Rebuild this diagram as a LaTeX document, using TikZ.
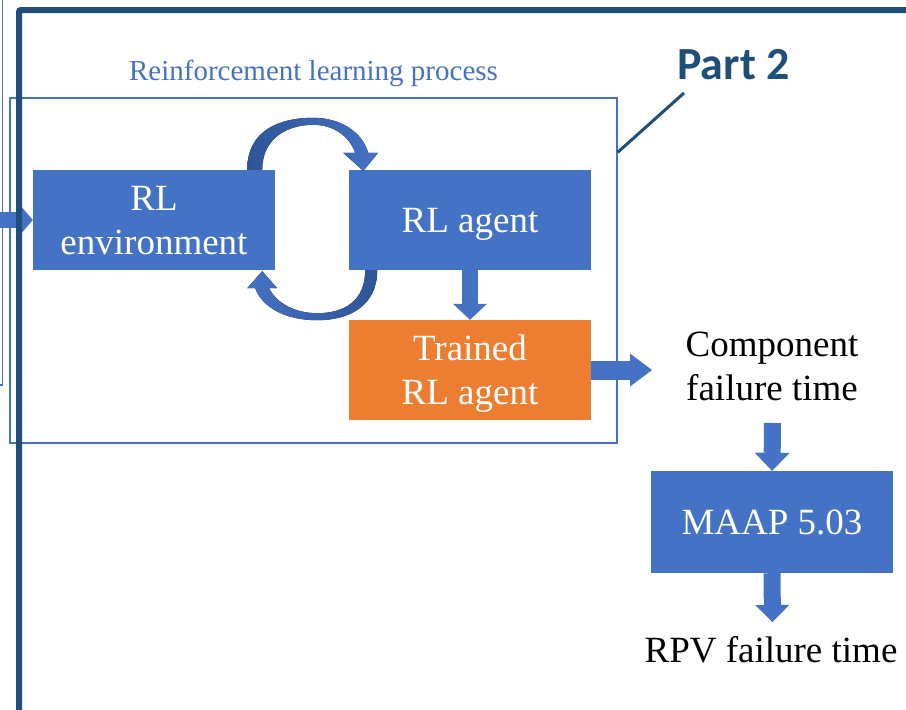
\documentclass[tikz,border=0pt]{standalone}
\usepackage{fontspec}
\setmainfont{Liberation Serif}
\newfontfamily\calfont{Carlito}
\usetikzlibrary{arrows.meta,calc}
\definecolor{boxblue}{HTML}{4472C4}
\definecolor{deepblue}{HTML}{2F5597}
\definecolor{boxorange}{HTML}{ED7D31}
\definecolor{navy}{HTML}{1F4E79}
\begin{document}
\begin{tikzpicture}[x=1pt,y=-1pt,
  bigtext/.style={font=\fontsize{37}{44}\selectfont},
  stage/.style={bigtext, fill=#1, text=white, minimum width=242pt,
    minimum height=100pt, inner sep=0pt, align=center, text depth=0pt},
  fatarrow/.style n args={3}{draw=boxblue, line width=#1,
    -{Triangle[width=#2, length=#3, line width=0pt]}},
  thinframe/.style={draw=boxblue, line width=1.5pt}]
\useasboundingbox (0,0) rectangle (906,710);

% process stages
\node[stage=boxblue]   (env)     at (154,220) {RL\\environment};
\node[stage=boxblue]   (agent)   at (470,220) {RL agent};
\node[stage=boxorange] (trained) at (470,370) {Trained\\RL agent};
\node[stage=boxblue, minimum height=102pt] (maap) at (772,522) {MAAP 5.03};

% outputs
\node[bigtext, align=center, inner sep=0pt] (comp) at (772,366) {Component\\failure time};
\node[bigtext, anchor=base, inner sep=0pt] (rpv) at (771,662) {RPV failure time};

% helper points for the free arrow ends
\coordinate (inlet)    at (0,220);
\coordinate (compin)   at (652,370);
\coordinate (compout)  at (772.5,423);
\coordinate (rpvin)    at (772.5,622);

% straight block arrows
\draw[fatarrow={16pt}{28pt}{12pt}] (inlet) -- (env.west);
\draw[fatarrow={16pt}{34pt}{16pt}] (agent.south) -- (trained.north);
\draw[fatarrow={19pt}{33pt}{22pt}] (trained.east) -- (compin);
\draw[fatarrow={17pt}{35pt}{18pt}] (compout) -- (maap.north);
\draw[fatarrow={17pt}{34pt}{17pt}] (maap.south) -- (rpvin);

% curved loop arrow: environment -> agent (over the top)
\begin{scope}[shift={(env.north east)}]
  \fill[left color=deepblue, right color=boxblue]
    (-28,0) .. controls (-28,-40) and (5,-52) .. (38,-52)
    .. controls (65,-52) and (87,-38) .. (93,-17)
    -- (103,-17) -- (88,1) -- (68,-17) -- (80,-17)
    .. controls (75,-32) and (60,-45) .. (38,-45)
    .. controls (10,-45) and (-13,-30) .. (-13,0) -- cycle;
\end{scope}

% curved loop arrow: agent -> environment (underneath)
\begin{scope}[shift={(env.south east)}]
  \fill[left color=boxblue, right color=deepblue]
    (102,0) .. controls (102,35) and (75,50) .. (42,50)
    .. controls (10,50) and (-13,37) .. (-20,18)
    -- (-28,18) -- (-13,1) -- (2,18) -- (-6,18)
    .. controls (1,33) and (20,43) .. (42,43)
    .. controls (70,43) and (90,30) .. (90,0) -- cycle;
\end{scope}

% reinforcement learning process frame and its title
\node[thinframe, minimum width=607pt, minimum height=345pt, inner sep=0pt] (proc) at (313.5,270.5) {};
\node[text=boxblue, font=\fontsize{29}{34}\selectfont, anchor=base] (proclabel) at (313.5,80) {Reinforcement learning process};

% part label with leader line
\node[text=navy, font=\calfont\bfseries\fontsize{46}{55}\selectfont, anchor=base] (part) at (733.5,79) {Part 2};
\coordinate (leadend) at (684,93);
\draw[navy, line width=3pt] ($(proc.north east)+(0,55)$) -- (leadend);

% neighbouring frames
\draw[thinframe] (2.5,-3) -- (2.5,385) -- (-3,385);
\draw[navy, line width=6pt, rounded corners=2pt] (19,715) -- (19,10) -- (912,10);
\end{tikzpicture}
\end{document}
